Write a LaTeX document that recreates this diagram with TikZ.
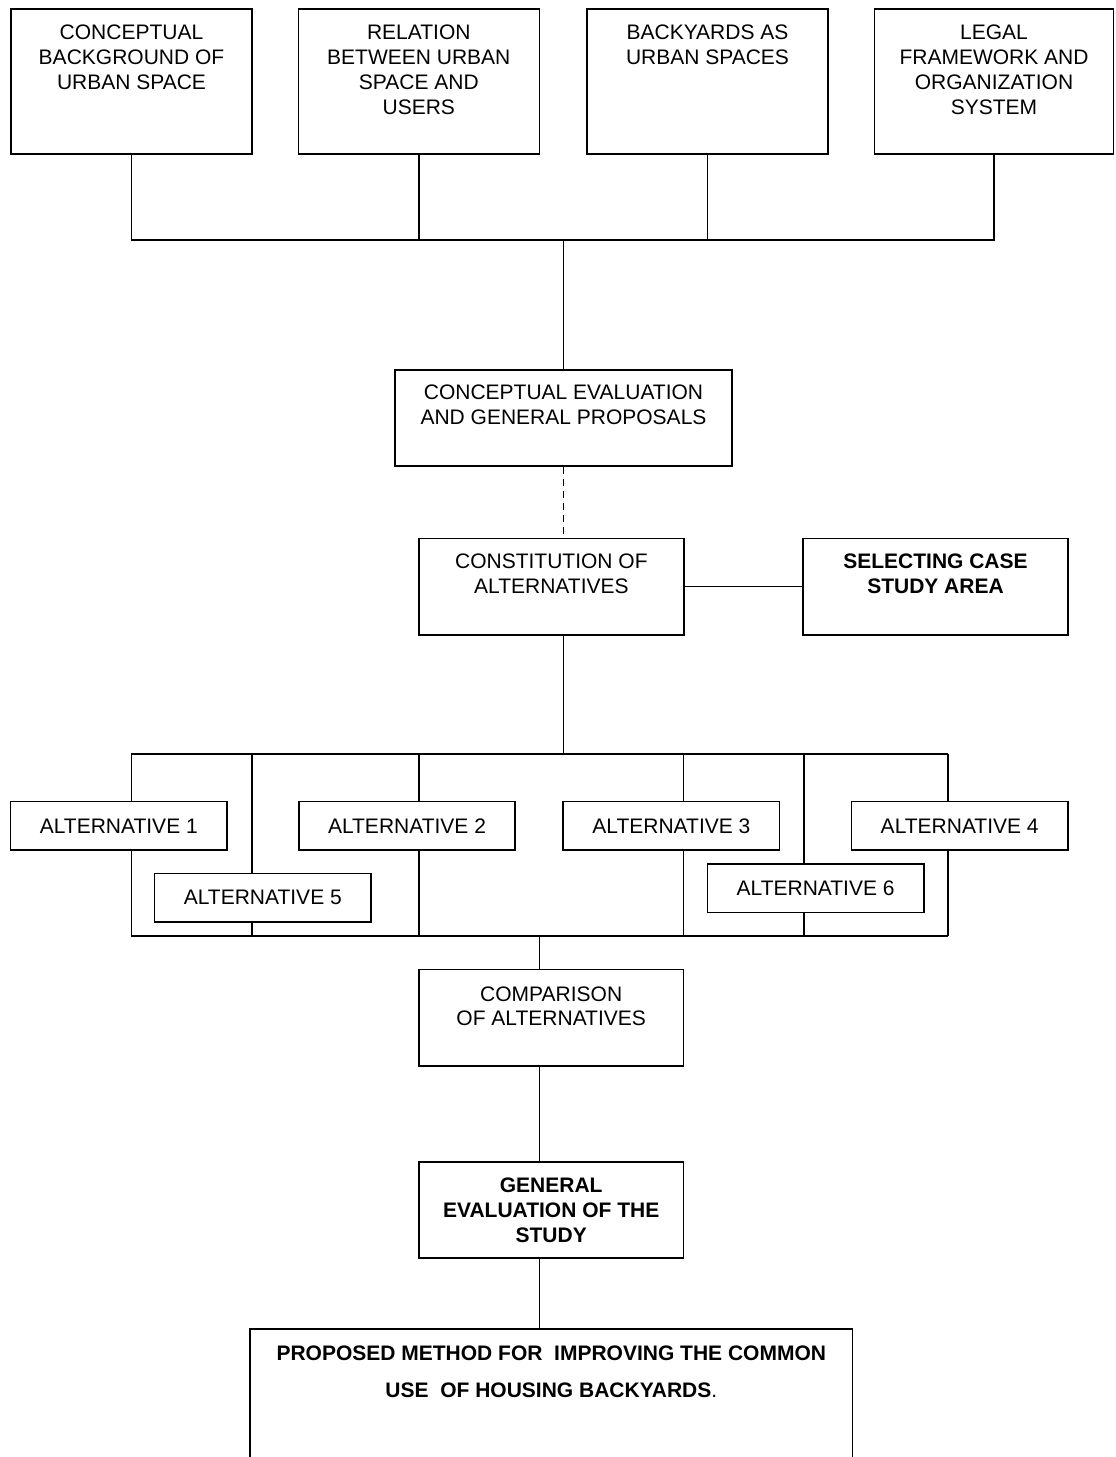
\documentclass[tikz,border=0pt]{standalone}
\usepackage{fontspec}
\setmainfont{Liberation Sans}
\begin{document}
\begin{tikzpicture}[x=1pt,y=-1pt,line width=0.8pt,
    box/.style={draw,fill=white,inner sep=0pt},
    topbox/.style={box,minimum width=120.5pt,minimum height=72.4pt},
    midbox/.style={box,minimum width=132.4pt,minimum height=48.2pt},
    altbox/.style={box,minimum width=108.2pt,minimum height=24.2pt,font=\fontsize{10.5}{12.4}\selectfont},
    toptext/.style={anchor=north,align=center,inner sep=0pt,yshift=-8pt,font=\fontsize{10.5}{12.4}\selectfont}]
    \useasboundingbox (0,0) rectangle (557.5,728.5);

    % sources
    \node[topbox,label={[toptext]north:{CONCEPTUAL\\BACKGROUND OF\\URBAN SPACE}}] at (65.75,40.8) (background) {};
    \node[topbox,label={[toptext]north:{RELATION\\BETWEEN URBAN\\SPACE AND\\USERS}}] at (209.4,40.8) (relation) {};
    \node[topbox,label={[toptext]north:{BACKYARDS AS\\URBAN SPACES}}] at (353.75,40.8) (backyards) {};
    \node[topbox,minimum width=119.5pt,label={[toptext]north:{LEGAL\\FRAMEWORK AND\\ORGANIZATION\\SYSTEM}}] at (497,40.8) (legal) {};
    \coordinate (bus) at (281.75,120);

    \node[midbox,minimum width=168.3pt,label={[toptext,yshift=0.5pt]north:{CONCEPTUAL EVALUATION\\AND GENERAL PROPOSALS}}] at (281.75,209) (evaluation) {};
    \node[midbox,label={[toptext]north:{CONSTITUTION OF\\ALTERNATIVES}}] at (275.7,293.25) (constitution) {};
    \node[midbox,label={[toptext,font=\fontsize{10.5}{12.4}\selectfont\bfseries]north:{SELECTING CASE\\STUDY AREA}}] at (467.75,293.25) (selecting) {};

    % alternatives
    \coordinate (altbus) at (281.75,377);
    \coordinate (k1) at (65.7,377);
    \coordinate (k2) at (125.9,377);
    \coordinate (k3) at (209.5,377);
    \coordinate (k4) at (341.8,377);
    \coordinate (k5) at (402,377);
    \coordinate (k6) at (474,377);
    \coordinate (lowbus) at (269.65,467.9);
    \node[altbox] at (59.4,412.9) (alt1) {ALTERNATIVE 1};
    \node[altbox] at (203.5,412.9) (alt2) {ALTERNATIVE 2};
    \node[altbox] at (335.7,412.9) (alt3) {ALTERNATIVE 3};
    \node[altbox] at (479.85,412.9) (alt4) {ALTERNATIVE 4};
    \node[altbox] at (131.4,448.9) (alt5) {ALTERNATIVE 5};
    \node[altbox] at (407.8,444.2) (alt6) {ALTERNATIVE 6};

    \node[midbox,label={[toptext,yshift=-0.4pt]north:{COMPARISON\\OF ALTERNATIVES}}] at (275.6,508.9) (comparison) {};
    \node[midbox,label={[toptext,font=\fontsize{10.5}{12.4}\selectfont\bfseries]north:{GENERAL\\EVALUATION OF THE\\STUDY}}] at (275.6,605) (general) {};
    \node[inner sep=0pt,minimum width=300.3pt,minimum height=63.5pt,
        label={[toptext,yshift=0.2pt,font=\fontsize{10.5}{18.7}\selectfont\bfseries]north:{PROPOSED METHOD FOR\ \ IMPROVING THE COMMON\\USE\ \ OF HOUSING BACKYARDS{\mdseries.}}}] at (275.65,696.75) (proposed) {};

    % connectors
    \draw (background.south) -- (background.south |- bus) -- (legal.south |- bus) -- (legal.south);
    \draw (relation.south) -- (relation.south |- bus);
    \draw (backyards.south) -- (backyards.south |- bus);
    \draw (bus) -- (evaluation.north);
    \draw[dash pattern=on 3.5pt off 2.5pt] (evaluation.south) -- (evaluation.south |- constitution.north);
    \path (constitution) edge (selecting);
    \draw (evaluation.south |- constitution.south) -- (altbus);
    \draw (k1) -- (k6);
    \draw (k1 |- lowbus) -- (k6 |- lowbus);
    \foreach \k/\a in {k1/alt1,k2/alt5,k3/alt2,k4/alt3,k5/alt6,k6/alt4}
        \draw (\k) -- (\k |- \a.north) (\k |- \a.south) -- (\k |- lowbus);
    \draw (lowbus) -- (lowbus |- comparison.north);
    \draw (lowbus |- comparison.south) -- (lowbus |- general.north);
    \draw (lowbus |- general.south) -- (lowbus |- proposed.north);
    \draw (proposed.south west) -- (proposed.north west) -- (proposed.north east) -- (proposed.south east);
\end{tikzpicture}
\end{document}
